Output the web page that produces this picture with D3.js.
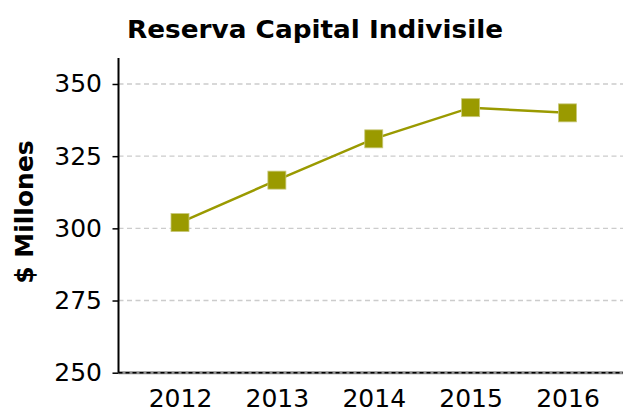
<!DOCTYPE html>
<html>
<head>
<meta charset="utf-8">
<script src="https://cdn.jsdelivr.net/npm/d3@7"></script>
<style>
    body { margin: 0; background: #fff; }
    svg { display: block; font-family: "DejaVu Sans", sans-serif; }
</style>
</head>
<body>
<div id="chart"></div>
<script>
// data
const years = ["2012", "2013", "2014", "2015", "2016"];
const values = [302, 316.7, 331, 341.8, 340];
const yTicks = [250, 275, 300, 325, 350];

const width = 623, height = 412;
const plotLeft = 118.5, plotRight = 623, plotTop = 58, plotBottom = 372.7;

const svg = d3.select("#chart").append("svg")
    .attr("width", width)
    .attr("height", height);

const x = d3.scalePoint()
    .domain(years)
    .range([180, 567.5]);

const y = d3.scaleLinear()
    .domain([250, 359])
    .range([plotBottom, plotTop]);

// grid lines
svg.append("g")
    .selectAll("line")
    .data(yTicks.filter(d => d > 250))
    .join("line")
    .attr("x1", plotLeft)
    .attr("x2", plotRight)
    .attr("y1", d => y(d))
    .attr("y2", d => y(d))
    .attr("stroke", "#cccccc")
    .attr("stroke-width", 1.3)
    .attr("stroke-dasharray", "5,3.5");

// bottom line: grey with black dashes
svg.append("line")
    .attr("x1", plotLeft).attr("x2", plotRight)
    .attr("y1", y(250)).attr("y2", y(250))
    .attr("stroke", "#8c8c8c")
    .attr("stroke-width", 3);
svg.append("line")
    .attr("x1", plotLeft).attr("x2", plotRight)
    .attr("y1", y(250)).attr("y2", y(250))
    .attr("stroke", "#000")
    .attr("stroke-width", 1.5)
    .attr("stroke-dasharray", "4,3");

// y axis
const yAxis = svg.append("g")
    .attr("transform", `translate(${plotLeft},0)`)
    .call(d3.axisLeft(y).tickValues(yTicks).tickSize(6).tickPadding(10.5).tickSizeOuter(0));
yAxis.select(".domain").attr("stroke", "#000").attr("stroke-width", 2)
    .attr("d", `M0,${plotTop}V${plotBottom}`);
yAxis.selectAll(".tick line").attr("stroke", "#000").attr("stroke-width", 1.5);
yAxis.selectAll(".tick text")
    .attr("font-size", 25)
    .attr("font-family", "DejaVu Sans")
    .attr("fill", "#000");

// x axis (labels only)
const xAxis = svg.append("g")
    .attr("transform", `translate(0,${plotBottom})`)
    .call(d3.axisBottom(x).tickSize(0).tickPadding(16.5));
xAxis.select(".domain").remove();
xAxis.selectAll(".tick text")
    .attr("font-size", 25)
    .attr("font-family", "DejaVu Sans")
    .attr("fill", "#000");

// line + markers
const color = "#9a9a00";
const line = d3.line()
    .x((d, i) => x(years[i]))
    .y(d => y(d));

svg.append("path")
    .datum(values)
    .attr("d", line)
    .attr("fill", "none")
    .attr("stroke", color)
    .attr("stroke-width", 2.5);

const ms = 18;
svg.append("g")
    .selectAll("rect")
    .data(values)
    .join("rect")
    .attr("x", (d, i) => x(years[i]) - ms / 2)
    .attr("y", d => y(d) - ms / 2)
    .attr("width", ms)
    .attr("height", ms)
    .attr("fill", color)
    .attr("stroke", "#c8c87a")
    .attr("stroke-width", 0.8);

// title
svg.append("text")
    .attr("x", 127)
    .attr("y", 38.3)
    .attr("font-size", 25)
    .attr("font-weight", "bold")
    .attr("textLength", 376)
    .attr("lengthAdjust", "spacingAndGlyphs")
    .text("Reserva Capital Indivisile");

// y label
svg.append("text")
    .attr("transform", `translate(33,212) rotate(-90)`)
    .attr("text-anchor", "middle")
    .attr("font-size", 25)
    .attr("font-weight", "bold")
    .text("$ Millones");
</script>
</body>
</html>
